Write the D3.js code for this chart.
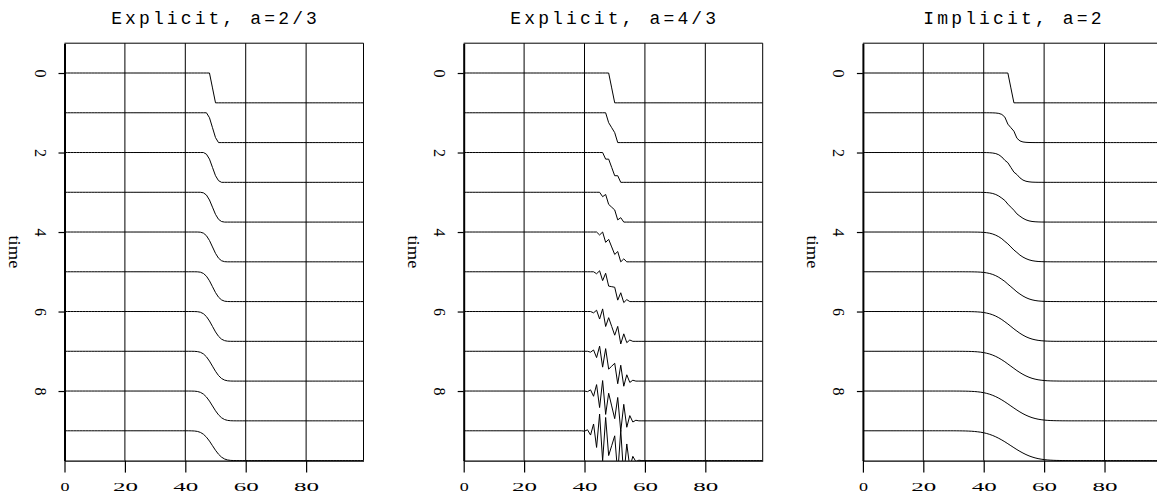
<!DOCTYPE html>
<html>
<head>
<meta charset="utf-8">
<script src="https://cdn.jsdelivr.net/npm/d3@7"></script>
<style>
  html, body { margin: 0; padding: 0; background: #fff; }
  svg { display: block; }
  text { font-family: "Liberation Serif", "DejaVu Serif", serif; fill: #000; }
  .title { font-family: "Liberation Mono", "DejaVu Sans Mono", monospace; }
</style>
</head>
<body>
<div id="chart"></div>
<script>
const titles = ["Explicit, a=2/3", "Explicit, a=4/3", "Implicit, a=2"];
const xTicks = [0, 20, 40, 60, 80];
const timeTicks = [0, 2, 4, 6, 8];
const times = [0, 1, 2, 3, 4, 5, 6, 7, 8, 9];
const nx = 100;

// explicit, a=2/3 : samples x = 41..57 (left of it 1, right of it 0)
const slowStart = 41;
const explicitSlow = [
  [1, 1, 1, 1, 1, 1, 1, 1, .5, 0, 0, 0, 0, 0, 0, 0, 0],
  [1, 1, 1, 1, 1, 1, 1, .833, .5, .167, 0, 0, 0, 0, 0, 0, 0],
  [1, 1, 1, 1, 1, 1, .944, .778, .5, .222, .056, 0, 0, 0, 0, 0, 0],
  [1, 1, 1, 1, 1, .981, .907, .741, .5, .259, .093, .019, 0, 0, 0, 0, 0],
  [1, 1, 1, 1, .994, .963, .877, .716, .5, .284, .123, .037, .006, 0, 0, 0, 0],
  [1, 1, 1, .998, .986, .944, .852, .698, .5, .302, .148, .056, .014, .002, 0, 0, 0],
  [1, 1, .999, .995, .976, .927, .831, .683, .5, .317, .169, .073, .024, .005, .001, 0, 0],
  [1, 1, .998, .990, .966, .912, .814, .671, .5, .329, .186, .088, .034, .010, .002, 0, 0],
  [1, .999, .996, .985, .956, .897, .799, .662, .5, .338, .201, .103, .044, .015, .004, .001, 0],
  [1, .998, .993, .979, .946, .884, .786, .654, .5, .346, .214, .116, .054, .021, .007, .002, 0]
];

// explicit, a=4/3 : samples x = 40..58
const fastStart = 40;
const explicitFast = [
  [1, 1, 1, 1, 1, 1, 1, 1, 1, .5, 0, 0, 0, 0, 0, 0, 0, 0, 0],
  [1, 1, 1, 1, 1, 1, 1, 1, .667, .5, .333, 0, 0, 0, 0, 0, 0, 0, 0],
  [1, 1, 1, 1, 1, 1, 1, .778, .778, .5, .222, .222, 0, 0, 0, 0, 0, 0, 0],
  [1, 1, 1, 1, 1, 1, .852, .926, .593, .5, .407, .074, .148, 0, 0, 0, 0, 0, 0],
  [1, 1, 1, 1, 1, .901, 1, .654, .753, .5, .247, .346, 0, .099, 0, 0, 0, 0, 0],
  [1, 1, 1, 1, .934, 1.033, .704, .951, .519, .5, .481, .049, .296, -.033, .066, 0, 0, 0, 0],
  [1, 1, 1, .956, 1.044, .748, 1.088, .498, .794, .5, .206, .502, -.088, .252, -.044, .044, 0, 0, 0],
  [1, 1, .971, 1.044, .788, 1.172, .468, 1.089, .401, .5, .599, -.089, .532, -.172, .212, -.044, .029, 0, 0],
  [1, .980, 1.039, .824, 1.215, .446, 1.351, .216, .926, .5, .074, .784, -.351, .554, -.215, .176, -.039, .020, 0],
  [.987, 1.033, .857, 1.228, .442, 1.562, -.009, 1.446, .169, .5, .831, -.446, 1.009, -.562, .558, -.228, .143, -.033, .013]
];

// implicit, a=2 : samples x = 31..67
const implicitStart = 31;
const implicitA2 = [
  [1, 1, 1, 1, 1, 1, 1, 1, 1, 1, 1, 1, 1, 1, 1, 1, 1, 1, .5, 0, 0, 0, 0, 0, 0, 0, 0, 0, 0, 0, 0, 0, 0, 0, 0, 0, 0],
  [1, 1, 1, 1, 1, 1, 1, 1, 1, 1, 1, .999, .997, .992, .979, .944, .854, .618, .5, .382, .146, .056, .021, .008, .003, .001, 0, 0, 0, 0, 0, 0, 0, 0, 0, 0, 0],
  [1, 1, 1, 1, 1, 1, 1, 1, .999, .999, .997, .993, .983, .964, .924, .850, .739, .658, .5, .342, .261, .150, .076, .036, .017, .007, .003, .001, .001, 0, 0, 0, 0, 0, 0, 0, 0],
  [1, 1, 1, 1, 1, 1, .999, .999, .998, .995, .989, .979, .959, .925, .873, .803, .725, .602, .5, .398, .275, .197, .127, .075, .041, .021, .011, .005, .002, .001, .001, 0, 0, 0, 0, 0, 0],
  [1, 1, 1, 1, 1, .999, .998, .997, .993, .988, .977, .960, .933, .893, .841, .774, .686, .603, .5, .397, .314, .226, .159, .107, .067, .040, .023, .012, .007, .003, .002, .001, 0, 0, 0, 0, 0],
  [1, 1, 1, .999, .999, .998, .996, .993, .987, .978, .963, .941, .910, .868, .814, .747, .675, .586, .5, .414, .325, .253, .186, .132, .090, .059, .037, .022, .013, .007, .004, .002, .001, .001, 0, 0, 0],
  [1, 1, .999, .999, .998, .996, .993, .987, .979, .967, .948, .923, .889, .846, .792, .730, .657, .582, .5, .418, .343, .270, .208, .154, .111, .077, .052, .033, .021, .013, .007, .004, .002, .001, .001, 0, 0],
  [1, .999, .999, .997, .996, .993, .988, .981, .970, .955, .934, .907, .871, .827, .775, .714, .648, .574, .5, .426, .352, .286, .225, .173, .129, .093, .066, .045, .030, .019, .012, .007, .004, .003, .001, .001, 0],
  [.999, .999, .997, .996, .993, .989, .983, .974, .961, .944, .921, .892, .855, .811, .760, .702, .638, .570, .5, .430, .362, .298, .240, .189, .145, .108, .079, .056, .039, .026, .017, .011, .007, .004, .003, .001, .001],
  [.999, .998, .996, .994, .990, .985, .977, .966, .952, .933, .909, .878, .841, .797, .747, .691, .631, .566, .5, .434, .369, .309, .253, .203, .159, .122, .091, .067, .048, .034, .023, .015, .010, .006, .004, .002, .001]
];

const width = 1157, height = 494;
const panelLeft = [64.5, 463.7, 862.9];
const plotW = 299, plotTop = 43.2, plotBottom = 460.6;
const amp = 0.75; // trace height in time units

const panels = [
  { title: titles[0], start: slowStart, traces: explicitSlow },
  { title: titles[1], start: fastStart, traces: explicitFast },
  { title: titles[2], start: implicitStart, traces: implicitA2 }
];

const svg = d3.select("#chart").append("svg")
  .attr("width", width)
  .attr("height", height);

svg.append("rect").attr("width", width).attr("height", height).attr("fill", "#fff");

const y = d3.scaleLinear().domain([-0.75, 9.75]).range([plotTop, plotBottom]);

panels.forEach((p, i) => {
  const left = panelLeft[i];
  const x = d3.scaleLinear().domain([0, nx - 1]).range([left, left + plotW]);
  const g = svg.append("g");

  svg.append("clipPath").attr("id", "clip" + i)
    .append("rect")
    .attr("x", left).attr("y", plotTop)
    .attr("width", plotW).attr("height", plotBottom - plotTop + 0.5);

  // vertical grid
  g.selectAll(".grid").data(xTicks.slice(1)).enter().append("line")
    .attr("x1", d => x(d)).attr("x2", d => x(d))
    .attr("y1", plotTop).attr("y2", plotBottom)
    .attr("stroke", "#000").attr("stroke-width", 1);

  // top and right of the frame
  g.append("path")
    .attr("d", `M${left},${plotTop}H${left + plotW}V${plotBottom}`)
    .attr("fill", "none").attr("stroke", "#000").attr("stroke-width", 1);

  // one trace per time step
  const line = d3.line().x(d => x(d[0])).y(d => y(d[1]));
  g.append("g").attr("clip-path", `url(#clip${i})`)
    .selectAll("path").data(p.traces).enter().append("path")
    .attr("d", (row, t) => line(d3.range(nx).map(ix => {
      const j = ix - p.start;
      const q = j < 0 ? 1 : j >= row.length ? 0 : row[j];
      return [ix, times[t] + amp * (1 - q)];
    })))
    .attr("fill", "none")
    .attr("stroke", "#000")
    .attr("stroke-width", 1);

  // bottom axis
  const ax = g.append("g")
    .attr("transform", `translate(0,${plotBottom})`)
    .call(d3.axisBottom(x).tickValues(xTicks).tickSize(12).tickSizeOuter(0));
  ax.select(".domain").attr("stroke-width", 1.2);
  ax.selectAll(".tick line").attr("stroke-width", 1.2);
  ax.selectAll(".tick text")
    .attr("y", 30.5).attr("dy", null)
    .attr("font-size", 12)
    .attr("font-family", null)
    .attr("textLength", d => String(d).length === 1 ? 9 : 25)
    .attr("lengthAdjust", "spacingAndGlyphs");

  // left axis, labels turned a quarter clockwise
  const ay = g.append("g")
    .attr("transform", `translate(${left},0)`)
    .call(d3.axisLeft(y).tickValues(timeTicks).tickSize(6).tickSizeOuter(0));
  ay.select(".domain").attr("stroke-width", 2);
  ay.selectAll(".tick line").attr("stroke-width", 1.2);
  ay.selectAll(".tick text")
    .attr("x", null).attr("dy", null)
    .attr("text-anchor", "middle")
    .attr("font-size", 16)
    .attr("font-family", null)
    .attr("transform", "translate(-30,0) rotate(90)");

  g.append("text")
    .attr("transform", `translate(${left - 56},${(plotTop + plotBottom) / 2}) rotate(90)`)
    .attr("text-anchor", "middle")
    .attr("font-size", 16)
    .attr("textLength", 33)
    .attr("lengthAdjust", "spacingAndGlyphs")
    .text("time");

  g.append("text")
    .attr("class", "title")
    .attr("x", left + plotW / 2)
    .attr("y", 23.5)
    .attr("text-anchor", "middle")
    .attr("font-size", 18)
    .attr("textLength", p.title.length * 13.75 - 0.5)
    .attr("lengthAdjust", "spacing")
    .text(p.title);
});
</script>
</body>
</html>
